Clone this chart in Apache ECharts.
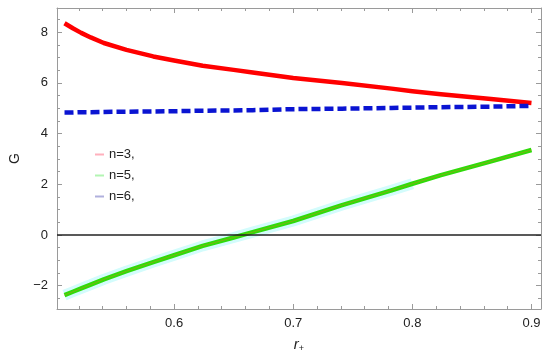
<!DOCTYPE html>
<html><head><meta charset="utf-8">
<script src="https://cdn.jsdelivr.net/npm/echarts@6/dist/echarts.min.js"></script>
<style>html,body{margin:0;padding:0;background:#fff}#c{width:550px;height:358px}</style>
</head><body><div id="c"></div>
<script>
var rPlus = [0.508, 0.515, 0.522, 0.53, 0.541, 0.56, 0.5825, 0.6, 0.624, 0.65, 0.666, 0.7, 0.741, 0.7825, 0.8, 0.824, 0.866, 0.9];
var gN3 = [8.35, 8.15, 7.97, 7.79, 7.57, 7.30, 7.04, 6.88, 6.67, 6.51, 6.41, 6.19, 5.99, 5.77, 5.67, 5.55, 5.36, 5.20];
var gN5 = [-2.37, -2.24, -2.11, -1.96, -1.75, -1.43, -1.07, -0.80, -0.43, -0.10, 0.11, 0.55, 1.18, 1.76, 2.02, 2.36, 2.90, 3.35];
var gN6 = [4.83, 4.83, 4.84, 4.84, 4.85, 4.86, 4.87, 4.88, 4.90, 4.91, 4.92, 4.96, 4.98, 5.01, 5.02, 5.04, 5.06, 5.09];
var xMajor = [0.6, 0.7, 0.8, 0.9];
var xMinor = [0.52, 0.54, 0.56, 0.58, 0.62, 0.64, 0.66, 0.68, 0.72, 0.74, 0.76, 0.78, 0.82, 0.84, 0.86, 0.88];
var yMajor = [-2, 0, 2, 4, 6, 8];
var yMinor = [-2.5, -1.5, -1, -0.5, 0.5, 1, 1.5, 2.5, 3, 3.5, 4.5, 5, 5.5, 6.5, 7, 7.5, 8.5];
var legendNames = ['n=3,', 'n=5,', 'n=6,'];

function pairs(ys, n){ var out = rPlus.map(function(x,i){return [x, ys[i]];}); return n ? out.slice(0, n) : out; }
var XMIN = 0.5017, XMAX = 0.908, YMIN = -2.92, YMAX = 8.95;
var frame = '#9a9a9a';
var font = 'Liberation Sans';
function xAx(pos, vals, len, line, labels){
  return {type:'value', position:pos, min:XMIN, max:XMAX,
    axisLine:{show:line, onZero:false, lineStyle:{color:frame, width:1}},
    axisTick:{show:true, inside:true, length:len, customValues:vals, lineStyle:{color:frame}},
    axisLabel:{show:labels, customValues:vals, color:'#222', fontFamily:font, fontSize:13, margin:8,
      formatter:function(v){return v.toFixed(1);}},
    splitLine:{show:false}};
}
function yAx(pos, vals, len, line, labels){
  return {type:'value', position:pos, min:YMIN, max:YMAX,
    axisLine:{show:line, onZero:false, lineStyle:{color:frame, width:1}},
    axisTick:{show:true, inside:true, length:len, customValues:vals, lineStyle:{color:frame}},
    axisLabel:{show:labels, customValues:vals, color:'#222', fontFamily:font, fontSize:13, margin:9,
      formatter:function(v){return v<0 ? '\u2212'+Math.abs(v) : String(v);}},
    splitLine:{show:false}};
}
var xAxes = [xAx('bottom', xMajor, 5, true, true), xAx('bottom', xMinor, 3, false, false),
             xAx('top', xMajor, 5, true, false), xAx('top', xMinor, 3, false, false)];
xAxes[0].name = '{i|r}{s|+}';
xAxes[0].nameLocation = 'middle';
xAxes[0].nameGap = 28;
xAxes[0].nameTextStyle = {rich:{i:{fontStyle:'italic', fontFamily:font, fontSize:15, color:'#222'},
  s:{fontFamily:font, fontSize:9, color:'#222', verticalAlign:'bottom', padding:[7,0,0,0]}}};
var yAxes = [yAx('left', yMajor, 5, true, true), yAx('left', yMinor, 3, false, false),
             yAx('right', yMajor, 5, true, false), yAx('right', yMinor, 3, false, false)];
yAxes[0].name = 'G';
yAxes[0].nameLocation = 'middle';
yAxes[0].nameGap = 35;
yAxes[0].nameRotate = 90;
yAxes[0].nameTextStyle = {fontFamily:font, fontSize:14, color:'#222'};

var chart = echarts.init(document.getElementById('c'), null, {renderer:'canvas'});
chart.setOption({
  animation:false,
  backgroundColor:'#fff',
  grid:{left:53, right:9, top:8, bottom:48},
  xAxis:xAxes,
  yAxis:yAxes,
  legend:{orient:'vertical', left:90, top:143, itemWidth:9, itemHeight:2, itemGap:8,
    textStyle:{fontFamily:font, fontSize:13, color:'#222'},
    data:[{name:legendNames[0], icon:'rect', itemStyle:{color:'#ffb0bd'}},
          {name:legendNames[1], icon:'rect', itemStyle:{color:'#b3f5b3'}},
          {name:legendNames[2], icon:'rect', itemStyle:{color:'#b0b0dd'}}]},
  series:[
    {type:'line', name:'band', data:pairs(gN5, 15), showSymbol:false, silent:true, z:1,
      lineStyle:{color:'#d3fcfc', width:11},
      markLine:{silent:true, symbol:'none', label:{show:false},
        lineStyle:{color:'#222', width:1.6, type:'solid'}, data:[{yAxis:0}]}},
    {type:'line', name:legendNames[0], data:pairs(gN3), showSymbol:false, z:3,
      lineStyle:{color:'#ff0000', width:4.5, join:'round'}},
    {type:'line', name:legendNames[1], data:pairs(gN5), showSymbol:false, z:3,
      lineStyle:{color:'#2edb0a', width:4.5, join:'round'}},
    {type:'line', name:'core', data:pairs(gN5), showSymbol:false, z:4, silent:true,
      lineStyle:{color:'#9ca313', width:1, opacity:0.7}},
    {type:'line', name:legendNames[2], data:pairs(gN6), showSymbol:false, z:3,
      lineStyle:{color:'#0a14d2', width:4.5, type:[9,4]}}
  ]
});
</script></body></html>
